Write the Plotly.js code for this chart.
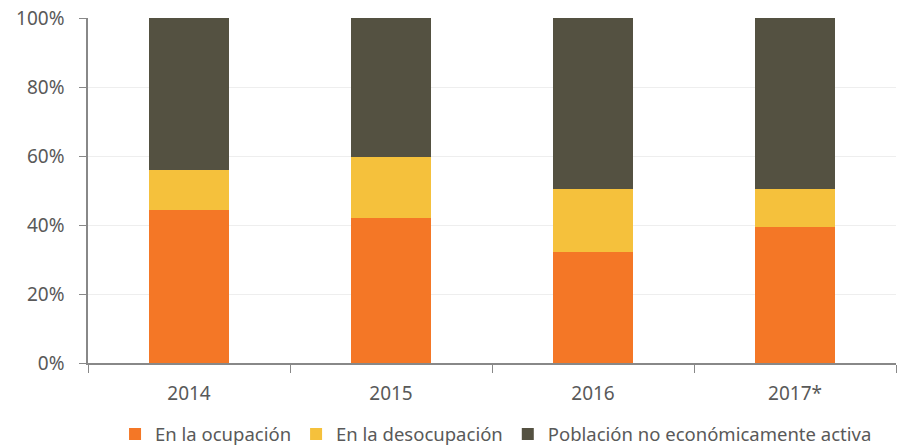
<!DOCTYPE html>
<html><head><meta charset="utf-8">
<script src="https://cdn.plot.ly/plotly-3.0.1.min.js"></script>
<style>html,body{margin:0;padding:0;background:#fff}</style>
</head><body><div id="chart" style="width:902px;height:446px"></div>
<script>
var categories = ["2014", "2015", "2016", "2017*"];
var ocupacion = [44.3, 42.1, 32.1, 39.3];
var desocupacion = [11.6, 17.5, 18.2, 11.0];
var noActiva = [44.1, 40.4, 49.7, 49.7];
var seriesNames = ["En la ocupación", "En la desocupación", "Población no económicamente activa"];
var colors = ["#F47726", "#F5C13C", "#545141"];
var vals = [ocupacion, desocupacion, noActiva];
var traces = vals.map(function(v, i){
  return {type:"bar", x:categories, y:v, name:seriesNames[i], marker:{color:colors[i], line:{width:0}}, width:0.395};
});
var layout = {
  width:902, height:446, barmode:"stack",
  margin:{l:88, r:6, t:17.5, b:82.7, autoexpand:false},
  paper_bgcolor:"#fff", plot_bgcolor:"#fff",
  font:{family:"Noto Sans, sans-serif", color:"#595959", size:18},
  xaxis:{type:"category", showline:true, linecolor:"#888", linewidth:1.5, ticks:"outside", tickson:"boundaries", ticklen:8, tickcolor:"#888", tickfont:{size:19, color:"#595959"}, ticklabelstandoff:12, showgrid:false},
  yaxis:{range:[0,100], dtick:20, ticksuffix:"%", showline:true, linecolor:"#888", linewidth:1.5, ticks:"outside", ticklen:7, tickcolor:"#888", gridcolor:"#EEEEEE", gridwidth:1, tickfont:{size:19, color:"#595959"}, ticklabelstandoff:11, zeroline:false},
  showlegend:true,
  legend:{orientation:"h", x:0.505, xanchor:"center", y:-0.152, yanchor:"top", font:{size:18.5, color:"#595959"}, traceorder:"normal", itemwidth:14}
};
Plotly.newPlot("chart", traces, layout, {displayModeBar:false});
</script></body></html>
